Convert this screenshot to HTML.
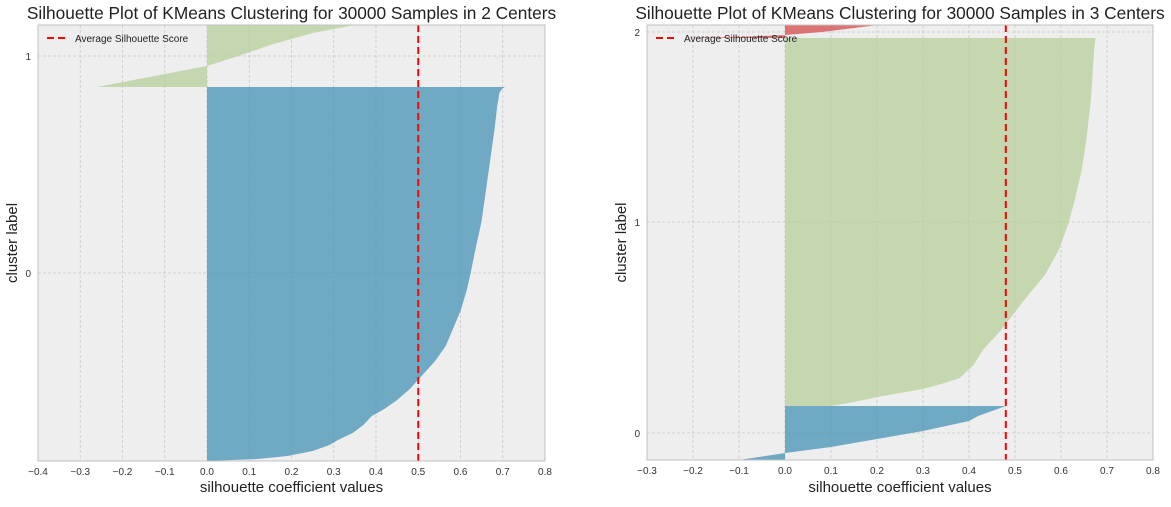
<!DOCTYPE html>
<html><head><meta charset="utf-8"><style>
body{margin:0;background:#fff;}
svg{font-family:"Liberation Sans",sans-serif;}
</style></head><body>
<svg id="s" width="1171" height="502" xmlns="http://www.w3.org/2000/svg"></svg>
<script>
// ---- Data (y values are sample-rank positions from bottom, x are silhouette coefficients)
const xTicksL = [-0.4,-0.3,-0.2,-0.1,0.0,0.1,0.2,0.3,0.4,0.5,0.6,0.7,0.8];
const xTicksR = [-0.3,-0.2,-0.1,0.0,0.1,0.2,0.3,0.4,0.5,0.6,0.7,0.8];
const yTickPosL = [188,405];
const yTickLabL = ["0","1"];
const yTickPosR = [27,238,428];
const yTickLabR = ["0","1","2"];
const avgL = 0.5;
const avgR = 0.48;
// left plot clusters
const l0Rank = [0,2,5,10,16,21,28,36,45,52,61,72,86,100,115,130,150,171,190,211,240,270,300,330,355,368,372,374];
const l0Vals = [0.0,0.12,0.19,0.25,0.29,0.31,0.345,0.37,0.39,0.42,0.45,0.48,0.51,0.54,0.565,0.58,0.60,0.615,0.625,0.635,0.65,0.66,0.67,0.68,0.687,0.692,0.698,0.705];
const l1Rank = [374,395,403,416,428,436,450];
const l1Vals = [-0.26,0.0,0.06,0.15,0.25,0.35,0.45];
// right plot clusters
const r0Rank = [0,7,13,21,29,39,44,54];
const r0Vals = [-0.1,0.0,0.1,0.2,0.3,0.4,0.42,0.48];
const r1Rank = [54,58,63,67,71,76,82,95,110,130,160,185,210,235,260,290,320,360,410,422];
const r1Vals = [0.1,0.15,0.2,0.25,0.3,0.34,0.38,0.41,0.43,0.47,0.52,0.565,0.595,0.615,0.63,0.645,0.655,0.665,0.672,0.675];
const r2Rank = [422,423,425,428,432,436,440,450];
const r2Vals = [-0.23,-0.1,0.0,0.08,0.15,0.22,0.35,0.5];

const NS="http://www.w3.org/2000/svg";
const svg=document.getElementById('s');
function mk(tag,attrs,parent){const e=document.createElementNS(NS,tag);for(const k in attrs)e.setAttribute(k,attrs[k]);(parent||svg).appendChild(e);return e;}

function panel(cfg){
  const g=mk('g',{});
  
  
  const {x0,x1,y0,y1,xmin,xmax,ymax}=cfg;
  const sx=v=>x0+(v-xmin)/(xmax-xmin)*(x1-x0);
  const sy=v=>y1-v/ymax*(y1-y0);
  const bg=mk('rect',{x:x0,y:y0,width:x1-x0,height:y1-y0,fill:'#eeeeee'},g);
  
  
  const clipId='c'+cfg.name;
  const cp=mk('clipPath',{id:clipId},g);mk('rect',{x:x0,y:y0,width:x1-x0,height:y1-y0},cp);
  cfg.xt.forEach(t=>{
    const gl=mk('line',{x1:sx(t),x2:sx(t),y1:y0,y2:y1,stroke:'#c8c8c8','stroke-width':0.8,'stroke-dasharray':'3,2'},g);
    
    
    const tl=mk('text',{x:sx(t),y:y1+14,'font-size':10,'text-anchor':'middle',fill:'#333'},g);
    tl.textContent=(t<0?'\u2212':'')+Math.abs(t).toFixed(1);
    
    
  });
  cfg.yp.forEach((p,i)=>{
    const gl=mk('line',{x1:x0,x2:x1,y1:sy(p),y2:sy(p),stroke:'#c8c8c8','stroke-width':0.8,'stroke-dasharray':'3,2'},g);
    
    
    const tl=mk('text',{x:x0-7,y:sy(p)+4,'font-size':10,'text-anchor':'end',fill:'#333'},g);
    tl.textContent=cfg.yl[i];
    
    
  });
  const cg=mk('g',{'clip-path':'url(#'+clipId+')'},g);
  cfg.clusters.forEach(c=>{
    let d='M'+sx(0)+','+sy(c.r[0]);
    for(let i=0;i<c.r.length;i++)d+=' L'+sx(c.v[i])+','+sy(c.r[i]);
    d+=' L'+sx(0)+','+sy(c.r[c.r.length-1])+' Z';
    const p=mk('path',{d:d,fill:c.col,'fill-opacity':0.75},cg);
    
    
  });
  const av=mk('line',{x1:sx(cfg.avg),x2:sx(cfg.avg),y1:y0,y2:y1,stroke:'#ff0000','stroke-width':2,'stroke-dasharray':'7,4'},g);
  
  
  const br=mk('rect',{x:x0,y:y0,width:x1-x0,height:y1-y0,fill:'none',stroke:'#c0c0c0','stroke-width':1},g);
  
  
  const lg=mk('g',{},g);
  
  
  mk('line',{x1:x0+9,x2:x0+28,y1:y0+13,y2:y0+13,stroke:'#ff0000','stroke-width':2,'stroke-dasharray':'7,4'},lg);
  const lt=mk('text',{x:x0+37,y:y0+17,'font-size':10,fill:'#222'},lg);lt.textContent='Average Silhouette Score';
  const tt=mk('text',{x:(x0+x1)/2,y:19,'font-size':17.3,'text-anchor':'middle',fill:'#222'},g);
  tt.textContent=cfg.title;
  
  
  const xl=mk('text',{x:(x0+x1)/2,y:492,'font-size':15,'text-anchor':'middle',fill:'#222'},g);
  xl.textContent='silhouette coefficient values';
  
  
  const yx=x0-21, yy=(y0+y1)/2;
  const yl=mk('text',{x:yx,y:yy,'font-size':15,'text-anchor':'middle',fill:'#222',transform:'rotate(-90 '+yx+' '+yy+')'},g);
  yl.textContent='cluster label';
  
  
}
panel({name:'left-panel',x0:38,x1:545,y0:25,y1:461,xmin:-0.4,xmax:0.8,ymax:436,xt:xTicksL,yp:yTickPosL,yl:yTickLabL,avg:avgL,
  title:'Silhouette Plot of KMeans Clustering for 30000 Samples in 2 Centers',
  clusters:[{name:'cluster-0-silhouette',r:l0Rank,v:l0Vals,col:'#4692b5'},{name:'cluster-1-silhouette',r:l1Rank,v:l1Vals,col:'#b5cf9a'}]});
panel({name:'right-panel',x0:647,x1:1153,y0:25,y1:460,xmin:-0.3,xmax:0.8,ymax:435,xt:xTicksR,yp:yTickPosR,yl:yTickLabR,avg:avgR,
  title:'Silhouette Plot of KMeans Clustering for 30000 Samples in 3 Centers',
  clusters:[{name:'cluster-0-silhouette',r:r0Rank,v:r0Vals,col:'#4692b5'},{name:'cluster-1-silhouette',r:r1Rank,v:r1Vals,col:'#b5cf9a'},{name:'cluster-2-silhouette',r:r2Rank,v:r2Vals,col:'#d6494b'}]});
</script>
</body></html>
